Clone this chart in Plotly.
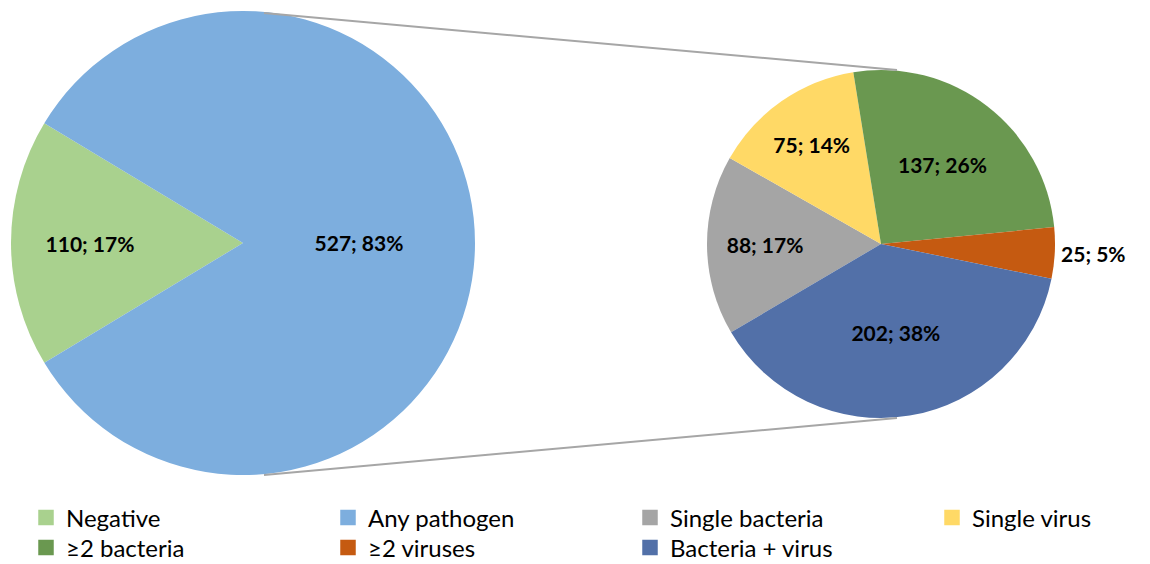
import plotly.graph_objects as go

# The page body has an 8px margin, so the figure is drawn inside the window
OFF = 8
W, H = 1150 - OFF, 564 - OFF

# ---- data ----
outer_labels = ["Negative", "Any pathogen"]
outer_values = [110, 527]
outer_colors = ["#A9D18E", "#7DAEDE"]

inner_labels = ["Single bacteria", "Single virus", "\u22652 bacteria", "\u22652 viruses", "Bacteria + virus"]
inner_values = [88, 75, 137, 25, 202]
inner_colors = ["#A5A5A5", "#FFD966", "#6A9850", "#C55A11", "#5270A8"]
inner_textpos = ["inside", "inside", "inside", "outside", "inside"]

FONT = "Lato, Carlito, Calibri, sans-serif"

def px_x(x):
    return (x - OFF) / W

def px_y(y):
    return 1 - (y - OFF) / H

# left pie: centre (243,243) r 232 ; right pie: centre (881,244) r 174 (window pixels)
left_dom = dict(x=[px_x(11), px_x(475)], y=[px_y(475), px_y(11)])
right_dom = dict(x=[px_x(707), px_x(1055)], y=[px_y(418), px_y(70)])

label_font = dict(family=FONT, size=21, color="black", weight="bold")

fig = go.Figure()
fig.add_trace(go.Pie(
    labels=outer_labels, values=outer_values, sort=False, direction="clockwise",
    rotation=238.9, domain=left_dom,
    marker=dict(colors=outer_colors, line=dict(width=0)),
    texttemplate="%{value}; %{percent:.0%}", textposition="inside",
    insidetextorientation="horizontal", textfont=label_font,
    showlegend=False, hoverinfo="label+value+percent",
))
fig.add_trace(go.Pie(
    labels=inner_labels, values=inner_values, sort=False, direction="clockwise",
    rotation=239.5, domain=right_dom,
    marker=dict(colors=inner_colors, line=dict(width=0)),
    texttemplate="%{value}; %{percent:.0%}", textposition=inner_textpos,
    insidetextorientation="horizontal", textfont=label_font,
    showlegend=False, hoverinfo="label+value+percent",
))

# legend entries (two rows, four columns like the original)
all_labels = outer_labels + inner_labels
all_colors = outer_colors + inner_colors
per_row = 4
for i, (lab, col) in enumerate(zip(all_labels, all_colors)):
    row = i // per_row
    last_in_row = (i % per_row == per_row - 1) or (i == len(all_labels) - 1)
    fig.add_trace(go.Scatter(
        x=[None], y=[None], mode="markers", name=lab,
        marker=dict(symbol="square", size=15.5, color=col, line=dict(width=0)),
        legend="legend" if row == 0 else "legend2",
        legendwidth=170 if last_in_row else 257,
        hoverinfo="skip",
    ))

line_style = dict(color="#A6A6A6", width=2)
fig.add_shape(type="line", xref="paper", yref="paper",
              x0=px_x(264), y0=px_y(13), x1=px_x(897), y1=px_y(70), line=line_style)
fig.add_shape(type="line", xref="paper", yref="paper",
              x0=px_x(264), y0=px_y(475), x1=px_x(897), y1=px_y(418), line=line_style)

legend_common = dict(
    orientation="h", xanchor="left", yanchor="middle",
    font=dict(family=FONT, size=24, color="black"),
    entrywidthmode="pixels", traceorder="normal",
    itemclick=False, itemdoubleclick=False, bgcolor="rgba(0,0,0,0)",
)

fig.update_layout(
    width=W, height=H,
    margin=dict(l=0, r=0, t=0, b=0, autoexpand=False),
    paper_bgcolor="white", plot_bgcolor="white",
    font=dict(family=FONT, color="black"),
    xaxis=dict(visible=False), yaxis=dict(visible=False),
    legend=dict(x=px_x(26), y=px_y(518), **legend_common),
    legend2=dict(x=px_x(26), y=px_y(548), **legend_common),
)

fig.write_html("out.html")
